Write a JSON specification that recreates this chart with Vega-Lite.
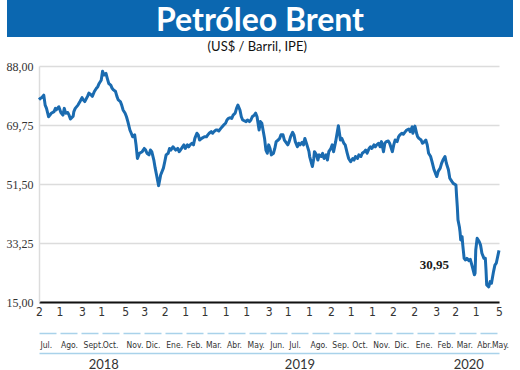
{
  "$schema": "https://vega.github.io/schema/vega-lite/v6.json",
  "padding": {"left": 6, "top": 0, "right": 8, "bottom": 0},
  "background": "white",
  "config": {"view": {"stroke": null}},
  "spacing": 4,
  "vconcat": [
    {
      "width": 506,
      "height": 37,
      "view": {"fill": "#0b67b0", "stroke": null},
      "data": {"values": [{"t": "Petróleo Brent"}]},
      "mark": {"type": "text", "font": "Lato", "fontWeight": "bold", "fontSize": 32, "color": "white", "baseline": "middle", "dy": 2},
      "encoding": {"text": {"field": "t", "type": "nominal"}}
    },
    {
      "width": 492,
      "height": 236,
      "title": {"text": "(US$ / Barril, IPE)", "font": "Lato", "fontSize": 13, "fontWeight": "normal", "color": "#111", "anchor": "middle", "frame": "bounds", "offset": 6},
      "data": {"values": [
        {"date":"2018-07-02","price":77.6},{"date":"2018-07-04","price":78.0},{"date":"2018-07-06","price":78.2},{"date":"2018-07-09","price":79.0},{"date":"2018-07-11","price":75.9},{"date":"2018-07-13","price":74.9},{"date":"2018-07-16","price":72.3},{"date":"2018-07-18","price":72.8},{"date":"2018-07-20","price":73.4},{"date":"2018-07-24","price":73.9},{"date":"2018-07-26","price":74.9},{"date":"2018-07-27","price":74.4},{"date":"2018-07-31","price":75.4},
        {"date":"2018-08-03","price":73.6},{"date":"2018-08-06","price":72.8},{"date":"2018-08-08","price":74.9},{"date":"2018-08-10","price":73.4},{"date":"2018-08-13","price":73.6},{"date":"2018-08-15","price":72.8},{"date":"2018-08-17","price":71.6},{"date":"2018-08-21","price":72.5},{"date":"2018-08-22","price":73.9},{"date":"2018-08-24","price":74.9},{"date":"2018-08-28","price":75.9},{"date":"2018-08-31","price":77.0},
        {"date":"2018-09-03","price":78.2},{"date":"2018-09-05","price":77.5},{"date":"2018-09-07","price":77.0},{"date":"2018-09-11","price":78.6},{"date":"2018-09-13","price":79.6},{"date":"2018-09-16","price":79.1},{"date":"2018-09-18","price":78.6},{"date":"2018-09-21","price":80.1},{"date":"2018-09-24","price":81.1},{"date":"2018-09-26","price":81.6},{"date":"2018-09-28","price":82.6},
        {"date":"2018-10-01","price":83.6},{"date":"2018-10-03","price":86.4},{"date":"2018-10-05","price":85.2},{"date":"2018-10-08","price":85.7},{"date":"2018-10-10","price":84.1},{"date":"2018-10-12","price":82.6},{"date":"2018-10-15","price":82.1},{"date":"2018-10-17","price":81.1},{"date":"2018-10-19","price":80.6},{"date":"2018-10-22","price":80.1},{"date":"2018-10-24","price":78.6},{"date":"2018-10-26","price":77.5},{"date":"2018-10-29","price":77.0},{"date":"2018-10-31","price":75.9},
        {"date":"2018-11-02","price":74.4},{"date":"2018-11-05","price":73.4},{"date":"2018-11-07","price":72.3},{"date":"2018-11-09","price":70.8},{"date":"2018-11-12","price":68.2},{"date":"2018-11-14","price":67.2},{"date":"2018-11-16","price":66.1},{"date":"2018-11-19","price":66.7},{"date":"2018-11-21","price":63.6},{"date":"2018-11-23","price":59.4},{"date":"2018-11-26","price":61.0},{"date":"2018-11-30","price":61.5},
        {"date":"2018-12-03","price":62.5},{"date":"2018-12-05","price":62.0},{"date":"2018-12-07","price":61.0},{"date":"2018-12-10","price":60.5},{"date":"2018-12-12","price":62.0},{"date":"2018-12-14","price":61.5},{"date":"2018-12-17","price":58.9},{"date":"2018-12-19","price":56.4},{"date":"2018-12-21","price":54.3},{"date":"2018-12-24","price":51.0},{"date":"2018-12-27","price":54.3},{"date":"2018-12-31","price":56.4},
        {"date":"2019-01-02","price":58.4},{"date":"2019-01-04","price":60.5},{"date":"2019-01-07","price":61.0},{"date":"2019-01-09","price":62.5},{"date":"2019-01-11","price":62.0},{"date":"2019-01-14","price":63.0},{"date":"2019-01-16","price":62.5},{"date":"2019-01-18","price":62.0},{"date":"2019-01-21","price":62.5},{"date":"2019-01-23","price":61.5},{"date":"2019-01-25","price":62.0},{"date":"2019-01-28","price":63.0},{"date":"2019-01-30","price":63.6},
        {"date":"2019-02-01","price":62.5},{"date":"2019-02-04","price":63.6},{"date":"2019-02-06","price":63.0},{"date":"2019-02-08","price":63.6},{"date":"2019-02-11","price":64.1},{"date":"2019-02-13","price":63.6},{"date":"2019-02-15","price":65.6},{"date":"2019-02-18","price":67.2},{"date":"2019-02-20","price":66.7},{"date":"2019-02-22","price":65.1},{"date":"2019-02-25","price":65.6},
        {"date":"2019-03-01","price":66.1},{"date":"2019-03-04","price":66.1},{"date":"2019-03-06","price":66.7},{"date":"2019-03-08","price":67.2},{"date":"2019-03-11","price":67.7},{"date":"2019-03-13","price":67.2},{"date":"2019-03-15","price":67.7},{"date":"2019-03-18","price":68.2},{"date":"2019-03-20","price":68.2},{"date":"2019-03-22","price":67.9},{"date":"2019-03-25","price":68.7},{"date":"2019-03-27","price":69.2},{"date":"2019-03-29","price":69.7},
        {"date":"2019-04-01","price":70.3},{"date":"2019-04-03","price":71.3},{"date":"2019-04-05","price":71.8},{"date":"2019-04-08","price":72.0},{"date":"2019-04-10","price":71.8},{"date":"2019-04-12","price":72.8},{"date":"2019-04-15","price":73.4},{"date":"2019-04-17","price":74.9},{"date":"2019-04-19","price":75.9},{"date":"2019-04-22","price":74.4},{"date":"2019-04-24","price":72.3},{"date":"2019-04-26","price":71.3},
        {"date":"2019-05-01","price":70.8},{"date":"2019-05-03","price":71.3},{"date":"2019-05-06","price":70.8},{"date":"2019-05-08","price":71.3},{"date":"2019-05-10","price":72.3},{"date":"2019-05-13","price":72.8},{"date":"2019-05-15","price":73.4},{"date":"2019-05-17","price":72.3},{"date":"2019-05-20","price":68.2},{"date":"2019-05-22","price":70.8},{"date":"2019-05-24","price":70.3},{"date":"2019-05-28","price":65.6},{"date":"2019-05-30","price":62.0},
        {"date":"2019-06-01","price":61.0},{"date":"2019-06-03","price":63.6},{"date":"2019-06-05","price":62.5},{"date":"2019-06-07","price":60.5},{"date":"2019-06-10","price":61.0},{"date":"2019-06-12","price":62.5},{"date":"2019-06-14","price":64.6},{"date":"2019-06-17","price":65.1},{"date":"2019-06-19","price":65.6},{"date":"2019-06-21","price":66.7},{"date":"2019-06-24","price":66.7},{"date":"2019-06-26","price":65.1},
        {"date":"2019-07-01","price":63.6},{"date":"2019-07-03","price":64.6},{"date":"2019-07-05","price":66.1},{"date":"2019-07-08","price":67.5},{"date":"2019-07-10","price":66.7},{"date":"2019-07-12","price":64.6},{"date":"2019-07-15","price":63.0},{"date":"2019-07-17","price":64.1},{"date":"2019-07-19","price":63.6},{"date":"2019-07-22","price":64.4},{"date":"2019-07-24","price":63.6},{"date":"2019-07-26","price":65.6},{"date":"2019-07-29","price":63.6},
        {"date":"2019-08-01","price":61.5},{"date":"2019-08-02","price":60.0},{"date":"2019-08-06","price":56.9},{"date":"2019-08-08","price":59.4},{"date":"2019-08-09","price":61.5},{"date":"2019-08-12","price":60.5},{"date":"2019-08-14","price":58.9},{"date":"2019-08-16","price":60.5},{"date":"2019-08-19","price":60.0},{"date":"2019-08-21","price":61.0},{"date":"2019-08-23","price":59.4},{"date":"2019-08-26","price":60.5},{"date":"2019-08-28","price":58.9},{"date":"2019-08-30","price":61.5},
        {"date":"2019-09-02","price":62.5},{"date":"2019-09-04","price":63.6},{"date":"2019-09-06","price":61.5},{"date":"2019-09-09","price":64.6},{"date":"2019-09-13","price":69.5},{"date":"2019-09-16","price":65.1},{"date":"2019-09-18","price":65.6},{"date":"2019-09-21","price":64.1},{"date":"2019-09-23","price":63.6},{"date":"2019-09-26","price":61.0},{"date":"2019-09-28","price":59.4},
        {"date":"2019-10-01","price":58.4},{"date":"2019-10-04","price":59.4},{"date":"2019-10-06","price":58.9},{"date":"2019-10-08","price":60.0},{"date":"2019-10-11","price":59.4},{"date":"2019-10-13","price":60.5},{"date":"2019-10-16","price":60.0},{"date":"2019-10-18","price":61.0},{"date":"2019-10-21","price":61.5},{"date":"2019-10-23","price":62.0},{"date":"2019-10-25","price":61.0},{"date":"2019-10-28","price":62.5},{"date":"2019-10-30","price":63.0},
        {"date":"2019-11-01","price":62.5},{"date":"2019-11-04","price":63.6},{"date":"2019-11-06","price":63.0},{"date":"2019-11-08","price":63.6},{"date":"2019-11-11","price":64.1},{"date":"2019-11-13","price":63.0},{"date":"2019-11-15","price":64.6},{"date":"2019-11-18","price":61.5},{"date":"2019-11-20","price":64.1},{"date":"2019-11-22","price":64.6},{"date":"2019-11-25","price":64.8},{"date":"2019-11-27","price":64.1},
        {"date":"2019-12-01","price":61.5},{"date":"2019-12-03","price":63.6},{"date":"2019-12-05","price":65.1},{"date":"2019-12-08","price":64.6},{"date":"2019-12-10","price":66.1},{"date":"2019-12-12","price":66.7},{"date":"2019-12-15","price":67.2},{"date":"2019-12-17","price":66.9},{"date":"2019-12-20","price":67.7},{"date":"2019-12-22","price":68.2},{"date":"2019-12-25","price":68.5},{"date":"2019-12-27","price":67.7},{"date":"2019-12-30","price":69.2},{"date":"2019-12-31","price":67.2},
        {"date":"2020-01-03","price":69.4},{"date":"2020-01-06","price":66.7},{"date":"2020-01-07","price":66.1},{"date":"2020-01-09","price":65.6},{"date":"2020-01-12","price":65.1},{"date":"2020-01-14","price":64.1},{"date":"2020-01-16","price":64.4},{"date":"2020-01-19","price":65.1},{"date":"2020-01-21","price":63.6},{"date":"2020-01-23","price":61.0},{"date":"2020-01-26","price":60.0},{"date":"2020-01-28","price":58.4},{"date":"2020-01-31","price":55.9},
        {"date":"2020-02-02","price":54.8},{"date":"2020-02-04","price":53.8},{"date":"2020-02-06","price":55.4},{"date":"2020-02-09","price":56.4},{"date":"2020-02-11","price":57.9},{"date":"2020-02-13","price":58.9},{"date":"2020-02-16","price":60.0},{"date":"2020-02-18","price":57.9},{"date":"2020-02-21","price":55.9},{"date":"2020-02-23","price":53.3},{"date":"2020-02-26","price":52.3},{"date":"2020-02-28","price":51.7},
        {"date":"2020-03-03","price":51.2},{"date":"2020-03-04","price":47.6},{"date":"2020-03-05","price":44.5},{"date":"2020-03-06","price":40.4},{"date":"2020-03-08","price":38.3},{"date":"2020-03-09","price":36.7},{"date":"2020-03-10","price":34.2},{"date":"2020-03-12","price":35.2},{"date":"2020-03-13","price":32.6},{"date":"2020-03-15","price":28.5},{"date":"2020-03-17","price":28.0},{"date":"2020-03-19","price":28.5},{"date":"2020-03-22","price":27.8},{"date":"2020-03-24","price":28.2},{"date":"2020-03-27","price":25.9},{"date":"2020-03-30","price":23.4},{"date":"2020-03-31","price":23.9},
        {"date":"2020-04-01","price":31.1},{"date":"2020-04-03","price":34.7},{"date":"2020-04-06","price":33.7},{"date":"2020-04-08","price":32.6},{"date":"2020-04-10","price":30.1},{"date":"2020-04-13","price":28.5},{"date":"2020-04-15","price":28.5},{"date":"2020-04-16","price":24.9},{"date":"2020-04-17","price":20.3},{"date":"2020-04-20","price":19.7},{"date":"2020-04-22","price":21.3},{"date":"2020-04-24","price":20.8},{"date":"2020-04-27","price":24.4},{"date":"2020-04-29","price":26.4},
        {"date":"2020-05-01","price":27.0},{"date":"2020-05-05","price":30.95}
      ]},
      "encoding": {
        "y": {
          "field": "price", "type": "quantitative",
          "scale": {"domain": [15, 88], "nice": false, "zero": false},
          "axis": {
            "title": null, "values": [15, 33.25, 51.5, 69.75, 88], "offset": -32,
            "labelExpr": "replace(format(datum.value, '.2f'), '.', ',')",
            "grid": true, "gridColor": "#dcdcdc", "gridWidth": 1.5,
            "domain": true, "domainColor": "#dcdcdc", "domainWidth": 1.5,
            "ticks": false, "labelPadding": 6,
            "labelFont": "Liberation Serif", "labelFontSize": 12, "labelColor": "#333"
          }
        }
      },
      "resolve": {"axis": {"x": "independent"}},
      "layer": [
        {
          "mark": {"type": "line", "color": "#1a6bb0", "strokeWidth": 3, "strokeJoin": "round"},
          "encoding": {
            "x": {
              "field": "date", "type": "temporal",
              "scale": {"type": "utc", "nice": false, "range": [32, 492]},
              "axis": {
                "orient": "bottom", "title": null, "grid": false, "ticks": false,
                "domainColor": "#111", "domainWidth": 2,
                "values": [
                  {"year":2018,"month":7,"date":2,"utc":true},{"year":2018,"month":8,"date":1,"utc":true},{"year":2018,"month":9,"date":3,"utc":true},{"year":2018,"month":10,"date":1,"utc":true},{"year":2018,"month":11,"date":5,"utc":true},{"year":2018,"month":12,"date":3,"utc":true},
                  {"year":2019,"month":1,"date":2,"utc":true},{"year":2019,"month":2,"date":1,"utc":true},{"year":2019,"month":3,"date":1,"utc":true},{"year":2019,"month":4,"date":1,"utc":true},{"year":2019,"month":5,"date":1,"utc":true},{"year":2019,"month":6,"date":3,"utc":true},{"year":2019,"month":7,"date":1,"utc":true},{"year":2019,"month":8,"date":1,"utc":true},{"year":2019,"month":9,"date":2,"utc":true},{"year":2019,"month":10,"date":1,"utc":true},{"year":2019,"month":11,"date":1,"utc":true},{"year":2019,"month":12,"date":2,"utc":true},
                  {"year":2020,"month":1,"date":2,"utc":true},{"year":2020,"month":2,"date":3,"utc":true},{"year":2020,"month":3,"date":2,"utc":true},{"year":2020,"month":4,"date":1,"utc":true},{"year":2020,"month":5,"date":5,"utc":true}
                ],
                "labelExpr": "'' + utcdate(datum.value)",
                "labelFlush": false, "labelOverlap": false, "labelPadding": 4,
                "labelFont": "Liberation Sans Narrow, DejaVu Sans Condensed, sans-serif", "labelFontSize": 12, "labelColor": "#333"
              }
            }
          }
        },
        {
          "data": {"values": [{"date": "2020-05-05", "price": 30.95, "label": "30,95"}]},
          "mark": {"type": "text", "font": "Liberation Serif", "fontWeight": "bold", "fontSize": 13, "color": "#1a1a1a", "align": "right", "baseline": "middle", "dx": -50, "dy": 15},
          "encoding": {
            "text": {"field": "label", "type": "nominal"},
            "x": {
              "field": "date", "type": "temporal",
              "axis": {
                "orient": "bottom", "title": null, "grid": false, "ticks": false, "offset": 31,
                "domainColor": "#a9d2ea", "domainWidth": 1.5, "domainDash": [17, 4],
                "values": [
                  {"year":2018,"month":7,"date":2,"utc":true},{"year":2018,"month":8,"date":1,"utc":true},{"year":2018,"month":9,"date":3,"utc":true},{"year":2018,"month":10,"date":1,"utc":true},{"year":2018,"month":11,"date":5,"utc":true},{"year":2018,"month":12,"date":3,"utc":true},
                  {"year":2019,"month":1,"date":2,"utc":true},{"year":2019,"month":2,"date":1,"utc":true},{"year":2019,"month":3,"date":1,"utc":true},{"year":2019,"month":4,"date":1,"utc":true},{"year":2019,"month":5,"date":1,"utc":true},{"year":2019,"month":6,"date":3,"utc":true},{"year":2019,"month":7,"date":1,"utc":true},{"year":2019,"month":8,"date":1,"utc":true},{"year":2019,"month":9,"date":2,"utc":true},{"year":2019,"month":10,"date":1,"utc":true},{"year":2019,"month":11,"date":1,"utc":true},{"year":2019,"month":12,"date":2,"utc":true},
                  {"year":2020,"month":1,"date":2,"utc":true},{"year":2020,"month":2,"date":3,"utc":true},{"year":2020,"month":3,"date":2,"utc":true},{"year":2020,"month":4,"date":1,"utc":true},{"year":2020,"month":5,"date":5,"utc":true}
                ],
                "labelExpr": "(utcyear(datum.value) == 2018 && utcmonth(datum.value) == 8) ? 'Sept.' : ['Ene.','Feb.','Mar.','Abr.','May.','Jun.','Jul.','Ago.','Sep.','Oct.','Nov.','Dic.'][utcmonth(datum.value)]",
                "labelAlign": {"condition": {"test": "utcyear(datum.value) == 2020 && utcmonth(datum.value) == 4", "value": "center"}, "value": "left"},
                "labelOffset": 1,
                "labelFlush": false, "labelOverlap": false, "labelPadding": 7,
                "labelFont": "Liberation Sans Narrow, DejaVu Sans Condensed, sans-serif", "labelFontSize": 8.5, "labelColor": "#333"
              }
            }
          }
        },
        {
          "data": {"values": [{"date": "2020-05-05", "price": 30.95, "label": "30,95"}]},
          "mark": {"type": "point", "opacity": 0},
          "encoding": {
            "x": {
              "field": "date", "type": "temporal",
              "axis": {
                "orient": "bottom", "title": null, "grid": false, "ticks": false, "offset": 51,
                "domainColor": "#a9d2ea", "domainWidth": 1.5,
                "values": [
                  {"year":2018,"month":10,"date":4,"utc":true},{"year":2019,"month":7,"date":18,"utc":true},{"year":2020,"month":3,"date":21,"utc":true}
                ],
                "labelExpr": "'' + utcyear(datum.value)",
                "labelFlush": false, "labelOverlap": false, "labelPadding": 5,
                "labelFont": "Lato", "labelFontSize": 13, "labelColor": "#333"
              }
            }
          }
        }
      ]
    }
  ]
}
